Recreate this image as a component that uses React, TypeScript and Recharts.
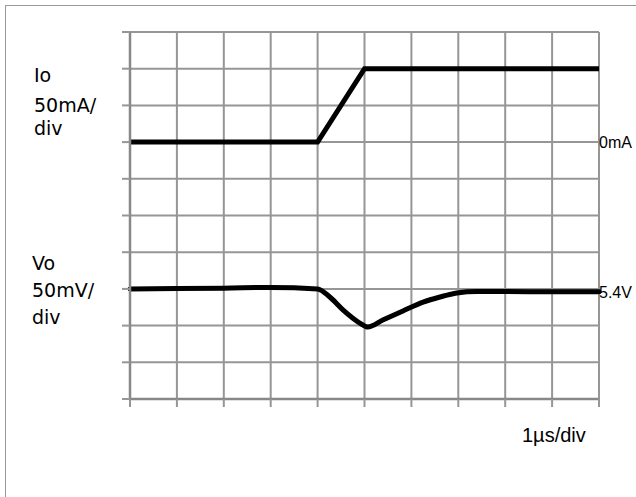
import React from 'react';
import { LineChart, Line, XAxis, YAxis, CartesianGrid } from 'recharts';

// time axis, 1 µs per division
const timeTicksUs = [0, 1, 2, 3, 4, 5, 6, 7, 8, 9, 10];
const divTicks = [0, 1, 2, 3, 4, 5, 6, 7, 8, 9, 10];

// load current step (Io)
const ioTimeUs = [0, 4, 5, 10];
const ioCurrentMa = [0, 0, 100, 100];

// output voltage response (Vo)
const voTimeUs = [0, 1, 2, 3, 4, 4.26, 4.54, 4.9, 5.07, 5.39, 5.82, 6.25, 6.61, 6.97, 7.4, 8, 9, 10];
const voVoltageV = [5.404, 5.4045, 5.405, 5.406, 5.404, 5.393, 5.3755, 5.3575, 5.352, 5.3615, 5.374, 5.386, 5.393, 5.3985, 5.4005, 5.4005, 5.4, 5.4];

// scope settings: where each trace's reference sits on screen (in divisions)
const IO_ZERO_DIV = 7;
const MA_PER_DIV = 50;
const VO_REF_V = 5.4;
const VO_REF_DIV = 2.92;
const V_PER_DIV = 0.05;

// one table on a shared time base, gaps bridged with connectNulls
const allTimes = Array.from(new Set([...ioTimeUs, ...voTimeUs])).sort((a, b) => a - b);
const chartData = allTimes.map((t) => {
    const ii = ioTimeUs.indexOf(t);
    const vi = voTimeUs.indexOf(t);
    return {
        t,
        io: ii >= 0 ? IO_ZERO_DIV + ioCurrentMa[ii] / MA_PER_DIV : null,
        vo: vi >= 0 ? VO_REF_DIV + (voVoltageV[vi] - VO_REF_V) / V_PER_DIV : null,
    };
});

const refTicks = [VO_REF_DIV, IO_ZERO_DIV];
const refLabel = (v: number) => (v === IO_ZERO_DIV ? '0mA' : '5.4V');
const blank = () => '';

const sideFont = { fontFamily: '"DejaVu Sans", sans-serif', fontSize: 19, fill: '#000' };
const gridGray = '#969696';
const axisGray = '#888888';

export default function App() {
    return (
        <div style={{ position: 'absolute', left: 0, top: 0, width: 636, height: 497, background: '#fff' }}>
            <div style={{ position: 'absolute', left: 5, top: 5, width: 631, height: 492, borderTop: '1px solid #999', borderLeft: '1px solid #999', boxSizing: 'border-box' }} />
            <div style={{ position: 'absolute', left: 0, top: 0 }}>
                <LineChart width={636} height={497} data={chartData} margin={{ top: 32, right: 0, bottom: 88, left: 120 }}>
                    <CartesianGrid yAxisId="l" stroke={gridGray} strokeWidth={2} />
                    <XAxis dataKey="t" type="number" domain={[0, 10]} ticks={timeTicksUs} height={10} interval={0}
                        tickFormatter={blank} tickSize={8} tickLine={{ stroke: gridGray, strokeWidth: 2 }}
                        axisLine={{ stroke: axisGray, strokeWidth: 2.5 }} />
                    <YAxis yAxisId="l" type="number" domain={[0, 10]} ticks={divTicks} width={10} interval={0}
                        tickFormatter={blank} tickSize={8} tickLine={{ stroke: gridGray, strokeWidth: 2 }}
                        axisLine={{ stroke: axisGray, strokeWidth: 2.5 }} />
                    <YAxis yAxisId="r" orientation="right" type="number" domain={[0, 10]} ticks={refTicks} width={37}
                        tickFormatter={refLabel} tickSize={0} tickMargin={0} axisLine={false} tickLine={false}
                        fontSize={16} fontFamily='"Liberation Sans", Arial, sans-serif'
                        tick={{ fill: '#000', fontSize: 16, textAnchor: 'start' }}
                        interval={0} />
                    <Line yAxisId="l" dataKey="io" type="linear" stroke="#000" strokeWidth={5} connectNulls
                        dot={false} activeDot={false} isAnimationActive={false} />
                    <Line yAxisId="r" dataKey="vo" type="monotone" stroke="#000" strokeWidth={5} connectNulls
                        strokeLinecap="round" dot={false} activeDot={false} isAnimationActive={false} />
                </LineChart>
            </div>
            <svg width={636} height={497} style={{ position: 'absolute', left: 0, top: 0, pointerEvents: 'none' }}>
                <text x={34} y={82} {...sideFont}>Io</text>
                <text x={34} y={112} {...sideFont}>50mA/</text>
                <text x={34} y={135} {...sideFont}>div</text>
                <text x={32} y={270} {...sideFont}>Vo</text>
                <text x={32} y={297} {...sideFont}>50mV/</text>
                <text x={32} y={324} {...sideFont}>div</text>
                <text x={522} y={442} fontFamily='"Liberation Sans", Arial, sans-serif' fontSize={20} fill="#000">1µs/div</text>
            </svg>
        </div>
    );
}
